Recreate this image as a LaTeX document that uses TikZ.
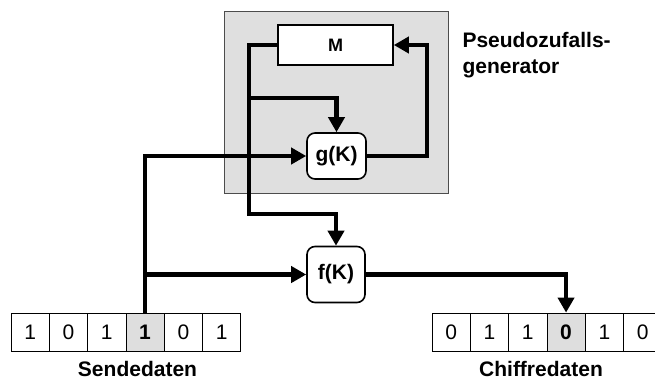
\documentclass[tikz,border=0pt]{standalone}
\usepackage{fontspec}
\setmainfont{Liberation Sans}
\usetikzlibrary{arrows.meta}
\definecolor{panelgray}{RGB}{223,223,223}
\definecolor{cellgray}{RGB}{222,222,222}
\tikzset{
  wire/.style={line width=4.5pt},
  conn/.style={wire, -{Triangle[length=15pt,width=16pt]}},
  panel/.style={draw=black!70, line width=0.8pt, fill=panelgray, minimum width=224pt, minimum height=182pt, inner sep=0pt},
  block/.style={draw, line width=1.6pt, fill=white, inner sep=0pt, font=\fontsize{21}{25}\selectfont\bfseries},
  cell/.style={draw, line width=0.8pt, fill=white, minimum width=38.3pt, minimum height=38pt, inner sep=0pt, font=\fontsize{21}{25}\selectfont},
  hotcell/.style={cell, fill=cellgray, font=\fontsize{21}{25}\selectfont\bfseries},
  caption/.style={font=\fontsize{21}{26}\selectfont\bfseries}
}
\begin{document}
\begin{tikzpicture}[x=1pt,y=-1pt]
\clip (0,0) rectangle (655,380);

\node[panel] (prng) at (336,102) {};
\node[caption, anchor=north west, align=left] (prnglabel) at (459,29) {Pseudozufalls-\\generator};

\node[block, minimum width=115pt, minimum height=40pt, font=\fontsize{18}{22}\selectfont\bfseries] (M) at (335.5,45) {M};
\node[block, rounded corners=8pt, minimum width=59pt, minimum height=46pt] (gK) at (336.5,156) {g(K)};
\node[block, rounded corners=8pt, minimum width=58pt, minimum height=56pt] (fK) at (336,274.5) {f(K)};

\foreach \b/\s [count=\i] in {1/cell,0/cell,1/cell,1/hotcell,0/cell,1/cell}
  \node[\s] (s\i) at ({11+38.3*(\i-0.5)},332) {\b};
\foreach \b/\s [count=\i] in {0/cell,1/cell,1/cell,0/hotcell,1/cell,0/cell}
  \node[\s] (c\i) at ({432+38.3*(\i-0.5)},332) {\b};

\node[caption] (send) at (137.5,369) {Sendedaten};
\node[caption] (chiff) at (541,369) {Chiffredaten};

\coordinate (tap1) at (249,98);
\coordinate (tap2) at (249,214);
\coordinate (tap3) at (145,274.5);
\coordinate (ret) at (427,156);

\draw[conn] (M.west) -| (tap2) -| (fK.north);
\draw[conn] (tap1) -| (gK.north);
\draw[conn] (gK.east) -- (ret) |- (M.east);
\draw[conn] (s4.north) |- (gK.west);
\draw[conn] (tap3) -- (fK.west);
\draw[conn] (fK.east) -| (c4.north);
\end{tikzpicture}
\end{document}
